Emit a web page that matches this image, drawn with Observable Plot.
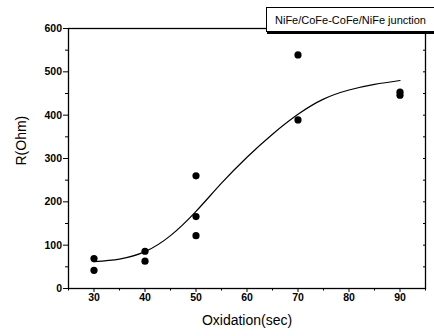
<!DOCTYPE html>
<html>
<head>
<meta charset="utf-8">
<script src="https://cdn.jsdelivr.net/npm/d3@7"></script>
<script src="https://cdn.jsdelivr.net/npm/@observablehq/plot@0.6"></script>
<style>
  body { margin: 0; background: #fff; }
  #wrap { position: relative; width: 434px; height: 336px; }
  #legend {
    position: absolute; left: 266px; top: 7px; width: 170px; height: 25px;
    box-sizing: border-box; border: 1px solid #000; background: #fff;
    box-shadow: 1px 2px 0 #000;
    font: 11px "Liberation Sans", Arial, sans-serif; line-height: 24px;
    padding-left: 8px; white-space: nowrap; color: #000;
  }
</style>
</head>
<body>
<div id="wrap"></div>
<script>
// Measured data (Oxidation time in sec, resistance in Ohm)
const pointX = [30, 30, 40, 40, 50, 50, 50, 70, 70, 90, 90];
const pointY = [69, 42, 86, 63, 260, 166, 122, 539, 389, 453, 446];

// Fitted curve
const curveX = [30, 35, 40, 45, 50, 55, 60, 65, 70, 75, 80, 85, 90];
const curveY = [62, 68, 85, 122, 178, 243, 303, 356, 402, 437, 458, 471, 480];

const xTicks = [30, 40, 50, 60, 70, 80, 90];
const xMinor = [25, 35, 45, 55, 65, 75, 85, 95];
const yTicks = [0, 100, 200, 300, 400, 500, 600];
const yMinor = [50, 150, 250, 350, 450, 550];

const legendText = "NiFe/CoFe-CoFe/NiFe junction";
const xLabel = "Oxidation(sec)";
const yLabel = "R(Ohm)";

const points = pointX.map((x, i) => ({x, y: pointY[i]}));
const curve = curveX.map((x, i) => ({x, y: curveY[i]}));

const chart = Plot.plot({
  width: 434,
  height: 336,
  marginLeft: 68,
  marginRight: 9,
  marginTop: 28,
  marginBottom: 48,
  style: {fontFamily: "'Liberation Sans', Arial, sans-serif", fontSize: "10px", color: "#000", background: "#fff"},
  x: {domain: [25, 95]},
  y: {domain: [0, 600]},
  marks: [
    Plot.frame({stroke: "#000", strokeWidth: 1.3}),
    Plot.axisX({ticks: xTicks, tickSize: 4, tickPadding: 1, label: null, fontWeight: "bold", fontSize: 10.5}),
    Plot.axisX({ticks: xMinor, tickSize: 2.5, tickFormat: () => "", label: null}),
    Plot.axisY({ticks: yTicks, tickSize: 5, tickPadding: 1.5, label: null, fontWeight: "bold", fontSize: 10.5}),
    Plot.axisY({ticks: yMinor, tickSize: 3, tickFormat: () => "", label: null}),
    Plot.axisY({anchor: "right", ticks: yTicks.concat(yMinor), tickSize: 3, dx: -3, tickFormat: () => "", label: null}),
    Plot.line(curve, {x: "x", y: "y", curve: "natural", stroke: "#000", strokeWidth: 1.2}),
    Plot.dot(points, {x: "x", y: "y", r: 3.6, fill: "#000", stroke: "none"}),
    Plot.text([xLabel], {frameAnchor: "bottom", dy: 36, fontSize: 14, fill: "#000"}),
    Plot.text([yLabel], {frameAnchor: "left", dx: -47, dy: 7, rotate: -90, fontSize: 14, fill: "#000"})
  ]
});

const wrap = document.getElementById("wrap");
wrap.appendChild(chart);
const legend = document.createElement("div");
legend.id = "legend";
legend.textContent = legendText;
wrap.appendChild(legend);
</script>
</body>
</html>
